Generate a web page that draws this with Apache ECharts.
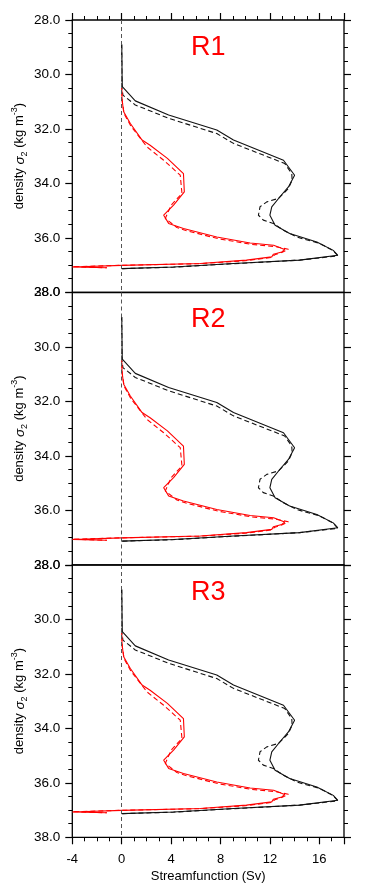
<!DOCTYPE html>
<html><head><meta charset="utf-8">
<script src="https://cdn.jsdelivr.net/npm/echarts@6/dist/echarts.min.js"></script>
<style>html,body{margin:0;padding:0;background:#fff}#c{width:365px;height:895px}</style>
</head><body><div id="c"></div>
<script>
// ---------------- data ----------------
const panelNames = ['R1', 'R2', 'R3'];

// black solid: density (sigma2) and streamfunction (Sv)
const blackSolidSigma = [28.9, 29.5, 30.0, 30.45, 30.97, 31.49, 32.04, 32.41, 33.15, 33.7, 34.13, 34.5, 34.86, 35.17, 35.54, 35.84, 36.15, 36.46, 36.64, 36.68, 36.82, 36.94, 37.07, 37.13];
const blackSolidPsi   = [0, 0.02, 0.03, 0.05, 1.1, 3.8, 7.7, 9.05, 13.1, 14.0, 13.5, 12.8, 12.15, 12.0, 12.42, 13.6, 15.8, 17.13, 17.5, 17.5, 14.4, 9.05, 4.2, 0];

// black dashed
const blackDashSigma = [28.9, 30.5, 30.76, 31.12, 31.61, 32.17, 32.53, 33.27, 33.64, 33.88, 34.19, 34.55, 34.68, 34.86, 35.17, 35.35, 35.47, 35.72, 35.97, 36.2, 36.46, 36.66, 36.82, 36.95, 37.08, 37.13];
const blackDashPsi   = [0, 0.02, 0.1, 1.1, 3.8, 7.7, 9.05, 13.2, 13.77, 13.8, 13.5, 12.7, 11.75, 11.2, 11.07, 11.47, 12.28, 13.1, 14.17, 16.0, 17.1, 17.5, 14.4, 9.0, 4.1, 0];

// red solid
const redSolidSigma = [30.5, 30.94, 31.37, 31.8, 32.41, 32.6, 33.08, 33.64, 34.31, 34.8, 35.17, 35.47, 35.66, 35.97, 36.19, 36.27, 36.43, 36.52, 36.6, 36.7, 36.82, 36.94, 37.01, 37.07, 37.1];
const redSolidPsi   = [0, 0.03, 0.16, 0.7, 1.65, 2.3, 3.7, 5.0, 5.07, 4.2, 3.4, 3.8, 5.0, 7.7, 10.4, 12.3, 13.2, 12.96, 12.28, 12.15, 10.1, 6.36, 0, -4.0, -1.2];

// red dashed
const redDashSigma = [30.6, 31.0, 31.45, 31.9, 32.66, 33.15, 33.7, 34.37, 34.8, 35.29, 35.62, 35.73, 36.03, 36.24, 36.32, 36.42, 36.53, 36.62, 36.72, 36.84, 36.95, 37.01, 37.06, 37.1];
const redDashPsi   = [0, 0.05, 0.2, 0.75, 2.05, 3.4, 4.74, 4.88, 4.0, 3.53, 4.47, 5.2, 7.8, 10.5, 12.4, 13.5, 13.0, 12.4, 12.1, 10.0, 6.2, 0, -4.0, -1.2];

const xMin = -4, xMax = 18, xStep = 4;
const yMin = 28, yMax = 38, yStep = 2;

// ---------------- chart ----------------
const FONT = '"Liberation Sans", Arial, Helvetica, sans-serif';
const tops = [20, 292.5, 565];
const H = 272.3, LEFT = 72.3, W = 271.7;
const zip = (xs, ys) => xs.map((x, i) => [x, ys[i]]);

const grid = tops.map(t => ({left: LEFT, top: t, width: W, height: H, show: true, borderColor: '#000', borderWidth: 1.3,
  backgroundColor: 'transparent', containLabel: false, outerBoundsMode: 'none'}));

const xAxis = [];
const yAxis = [];
const series = [];
const graphic = [];
const tickStyle = {show: true, inside: false, length: 7, lineStyle: {color: '#000', width: 1.2}};
const minorStyle = {show: true, splitNumber: 4, length: 4, lineStyle: {color: '#000', width: 1}};

tops.forEach((t, i) => {
  const isBottom = i === tops.length - 1;
  xAxis.push({
    gridIndex: i, type: 'value', min: xMin, max: xMax, interval: xStep, position: 'bottom',
    axisLine: {show: false, onZero: false},
    axisTick: Object.assign({}, tickStyle, {show: isBottom}),
    minorTick: Object.assign({}, minorStyle, {show: isBottom}),
    axisLabel: {show: isBottom, margin: 16, fontSize: 13, fontFamily: FONT, color: '#000',
      formatter: v => (v === xMax ? '' : String(v))},
    splitLine: {show: false},
    name: isBottom ? 'Streamfunction (Sv)' : '',
    nameLocation: 'middle', nameGap: 33, nameMoveOverlap: false,
    nameTextStyle: {fontSize: 13, fontFamily: FONT, color: '#000'}
  });
  yAxis.push({
    gridIndex: i, type: 'value', inverse: true, min: yMin, max: yMax, interval: yStep, position: 'left',
    axisLine: {show: false, onZero: false},
    axisTick: tickStyle, minorTick: minorStyle,
    axisLabel: {show: true, margin: 12, fontSize: 13.5, fontFamily: FONT, color: '#000',
      showMinLabel: true, showMaxLabel: true, formatter: v => v.toFixed(1)},
    splitLine: {show: false},
    name: 'density {i|σ}{s|2} (kg m{p|-3})',
    nameLocation: 'middle', nameGap: 43, nameRotate: 90, nameMoveOverlap: false,
    nameTextStyle: {fontSize: 13, fontFamily: FONT, color: '#000', lineHeight: 19,
      rich: {
        i: {fontSize: 13.5, fontFamily: FONT, fontStyle: 'italic', color: '#000', lineHeight: 19},
        s: {fontSize: 9, fontFamily: FONT, color: '#000', verticalAlign: 'bottom', lineHeight: 13},
        p: {fontSize: 9, fontFamily: FONT, color: '#000', verticalAlign: 'top', lineHeight: 13}
      }}
  });
  yAxis.push({
    gridIndex: i, type: 'value', inverse: true, min: yMin, max: yMax, interval: yStep, position: 'right',
    axisLine: {show: false, onZero: false},
    axisTick: tickStyle, minorTick: minorStyle,
    axisLabel: {show: false}, splitLine: {show: false}
  });
});
// top axis of the first panel (ticks only)
xAxis.push({
  gridIndex: 0, type: 'value', min: xMin, max: xMax, interval: xStep, position: 'top',
  axisLine: {show: false, onZero: false},
  axisTick: tickStyle, minorTick: minorStyle,
  axisLabel: {show: false}, splitLine: {show: false}
});

tops.forEach((t, i) => {
  const yIdx = i * 2;
  const base = {type: 'line', xAxisIndex: i, yAxisIndex: yIdx, showSymbol: false, symbol: 'none',
    silent: true, animation: false, clip: true};
  series.push(Object.assign({}, base, {
    data: zip(blackSolidPsi, blackSolidSigma),
    lineStyle: {color: '#111', width: 1.1},
    markLine: {silent: true, symbol: 'none', label: {show: false}, animation: false,
      lineStyle: {color: '#555', width: 1, type: [4, 3]}, data: [{xAxis: 0}]}
  }));
  series.push(Object.assign({}, base, {
    data: zip(blackDashPsi, blackDashSigma),
    lineStyle: {color: '#111', width: 1.1, type: [5, 3]}
  }));
  series.push(Object.assign({}, base, {
    data: zip(redSolidPsi, redSolidSigma),
    lineStyle: {color: '#ff0000', width: 1.1}
  }));
  series.push(Object.assign({}, base, {
    data: zip(redDashPsi, redDashSigma),
    lineStyle: {color: '#ff0000', width: 1.1, type: [5, 3]}
  }));
  graphic.push({
    type: 'text', x: LEFT + W / 2, y: t + 27.5, silent: true,
    style: {text: panelNames[i], fill: '#ff0000', font: '27px ' + FONT, align: 'center', verticalAlign: 'middle'}
  });
});

const chart = echarts.init(document.getElementById('c'), null, {renderer: 'canvas'});
chart.setOption({animation: false, grid, xAxis, yAxis, series, graphic});
</script>
</body></html>
